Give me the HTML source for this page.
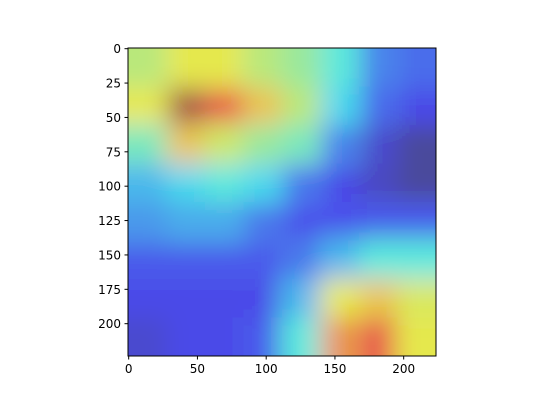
<!DOCTYPE html>
<html><head><meta charset="utf-8"><style>
body{margin:0;background:#fff;}
svg text{font-family:"DejaVu Sans","Liberation Sans",sans-serif;font-size:12px;fill:#000;}
</style></head><body>
<svg id="chart" width="550" height="400" viewBox="0 0 550 400">
<defs>
<clipPath id="clip"><rect x="128" y="48" width="308" height="308"/></clipPath>
<filter id="blur" x="-20%" y="-20%" width="140%" height="140%"><feGaussianBlur stdDeviation="12"/></filter>
</defs>
<g clip-path="url(#clip)">
<rect x="128" y="48" width="308" height="308" fill="#c4c4cc"/>
<g id="cells" filter="url(#blur)" opacity="0.62"></g>
</g>
<rect x="128" y="48" width="308" height="308" fill="none" stroke="#000" stroke-width="1"/>
<g id="axes"></g>
</svg>
<script>
const heat = [
[0.55,0.62,0.62,0.55,0.5,0.4,0.22,0.18],
[0.62,0.97,0.85,0.68,0.55,0.35,0.18,0.12],
[0.45,0.68,0.58,0.5,0.45,0.22,0.08,0.0],
[0.3,0.35,0.4,0.35,0.2,0.12,0.06,0.0],
[0.25,0.28,0.28,0.2,0.14,0.14,0.15,0.15],
[0.15,0.15,0.15,0.15,0.2,0.3,0.4,0.4],
[0.12,0.12,0.12,0.12,0.3,0.62,0.68,0.6],
[0.08,0.12,0.12,0.15,0.4,0.75,0.85,0.62]
];
const xTicks = [0,50,100,150,200];
const yTicks = [0,25,50,75,100,125,150,175,200];
const N = 224;
const x0 = 128, y0 = 48, W = 308;
const sx = v => x0 + (v + 0.5) * W / N;
const sy = v => y0 + (v + 0.5) * W / N;
function jet(v){
  const c = t => Math.max(0, Math.min(1, 1.5 - Math.abs(4*v - t)));
  return `rgb(${Math.round(255*c(3))},${Math.round(255*c(2))},${Math.round(255*c(1))})`;
}
const ns = "http://www.w3.org/2000/svg";
const cells = document.getElementById('cells');
const rows = heat.length, cols = heat[0].length;
const cw = N / cols, ch = N / rows;
for (let r = 0; r < rows; r++) for (let c = 0; c < cols; c++) {
  let xa = x0 + c*cw*W/N, xb = x0 + (c+1)*cw*W/N + 1;
  let ya = y0 + r*ch*W/N, yb = y0 + (r+1)*ch*W/N + 1;
  if (c === 0) xa -= 50; if (c === cols-1) xb += 50;
  if (r === 0) ya -= 50; if (r === rows-1) yb += 50;
  const el = document.createElementNS(ns, 'rect');
  el.setAttribute('x', xa); el.setAttribute('y', ya);
  el.setAttribute('width', xb - xa); el.setAttribute('height', yb - ya);
  el.setAttribute('fill', jet(heat[r][c]));
  
  
  cells.appendChild(el);
}
const axes = document.getElementById('axes');
xTicks.forEach(t => {
  const x = sx(t);
  const l = document.createElementNS(ns, 'line');
  l.setAttribute('x1', x); l.setAttribute('x2', x); l.setAttribute('y1', 356); l.setAttribute('y2', 359.5);
  l.setAttribute('stroke', '#000');
  
  
  axes.appendChild(l);
  const tx = document.createElementNS(ns, 'text');
  tx.setAttribute('x', x); tx.setAttribute('y', 373); tx.setAttribute('text-anchor', 'middle');
  tx.textContent = t;
  
  
  axes.appendChild(tx);
});
yTicks.forEach(t => {
  const y = sy(t);
  const l = document.createElementNS(ns, 'line');
  l.setAttribute('x1', 124.5); l.setAttribute('x2', 128); l.setAttribute('y1', y); l.setAttribute('y2', y);
  l.setAttribute('stroke', '#000');
  
  
  axes.appendChild(l);
  const tx = document.createElementNS(ns, 'text');
  tx.setAttribute('x', 121); tx.setAttribute('y', y + 4.5); tx.setAttribute('text-anchor', 'end');
  tx.textContent = t;
  
  
  axes.appendChild(tx);
});
</script>
</body></html>
